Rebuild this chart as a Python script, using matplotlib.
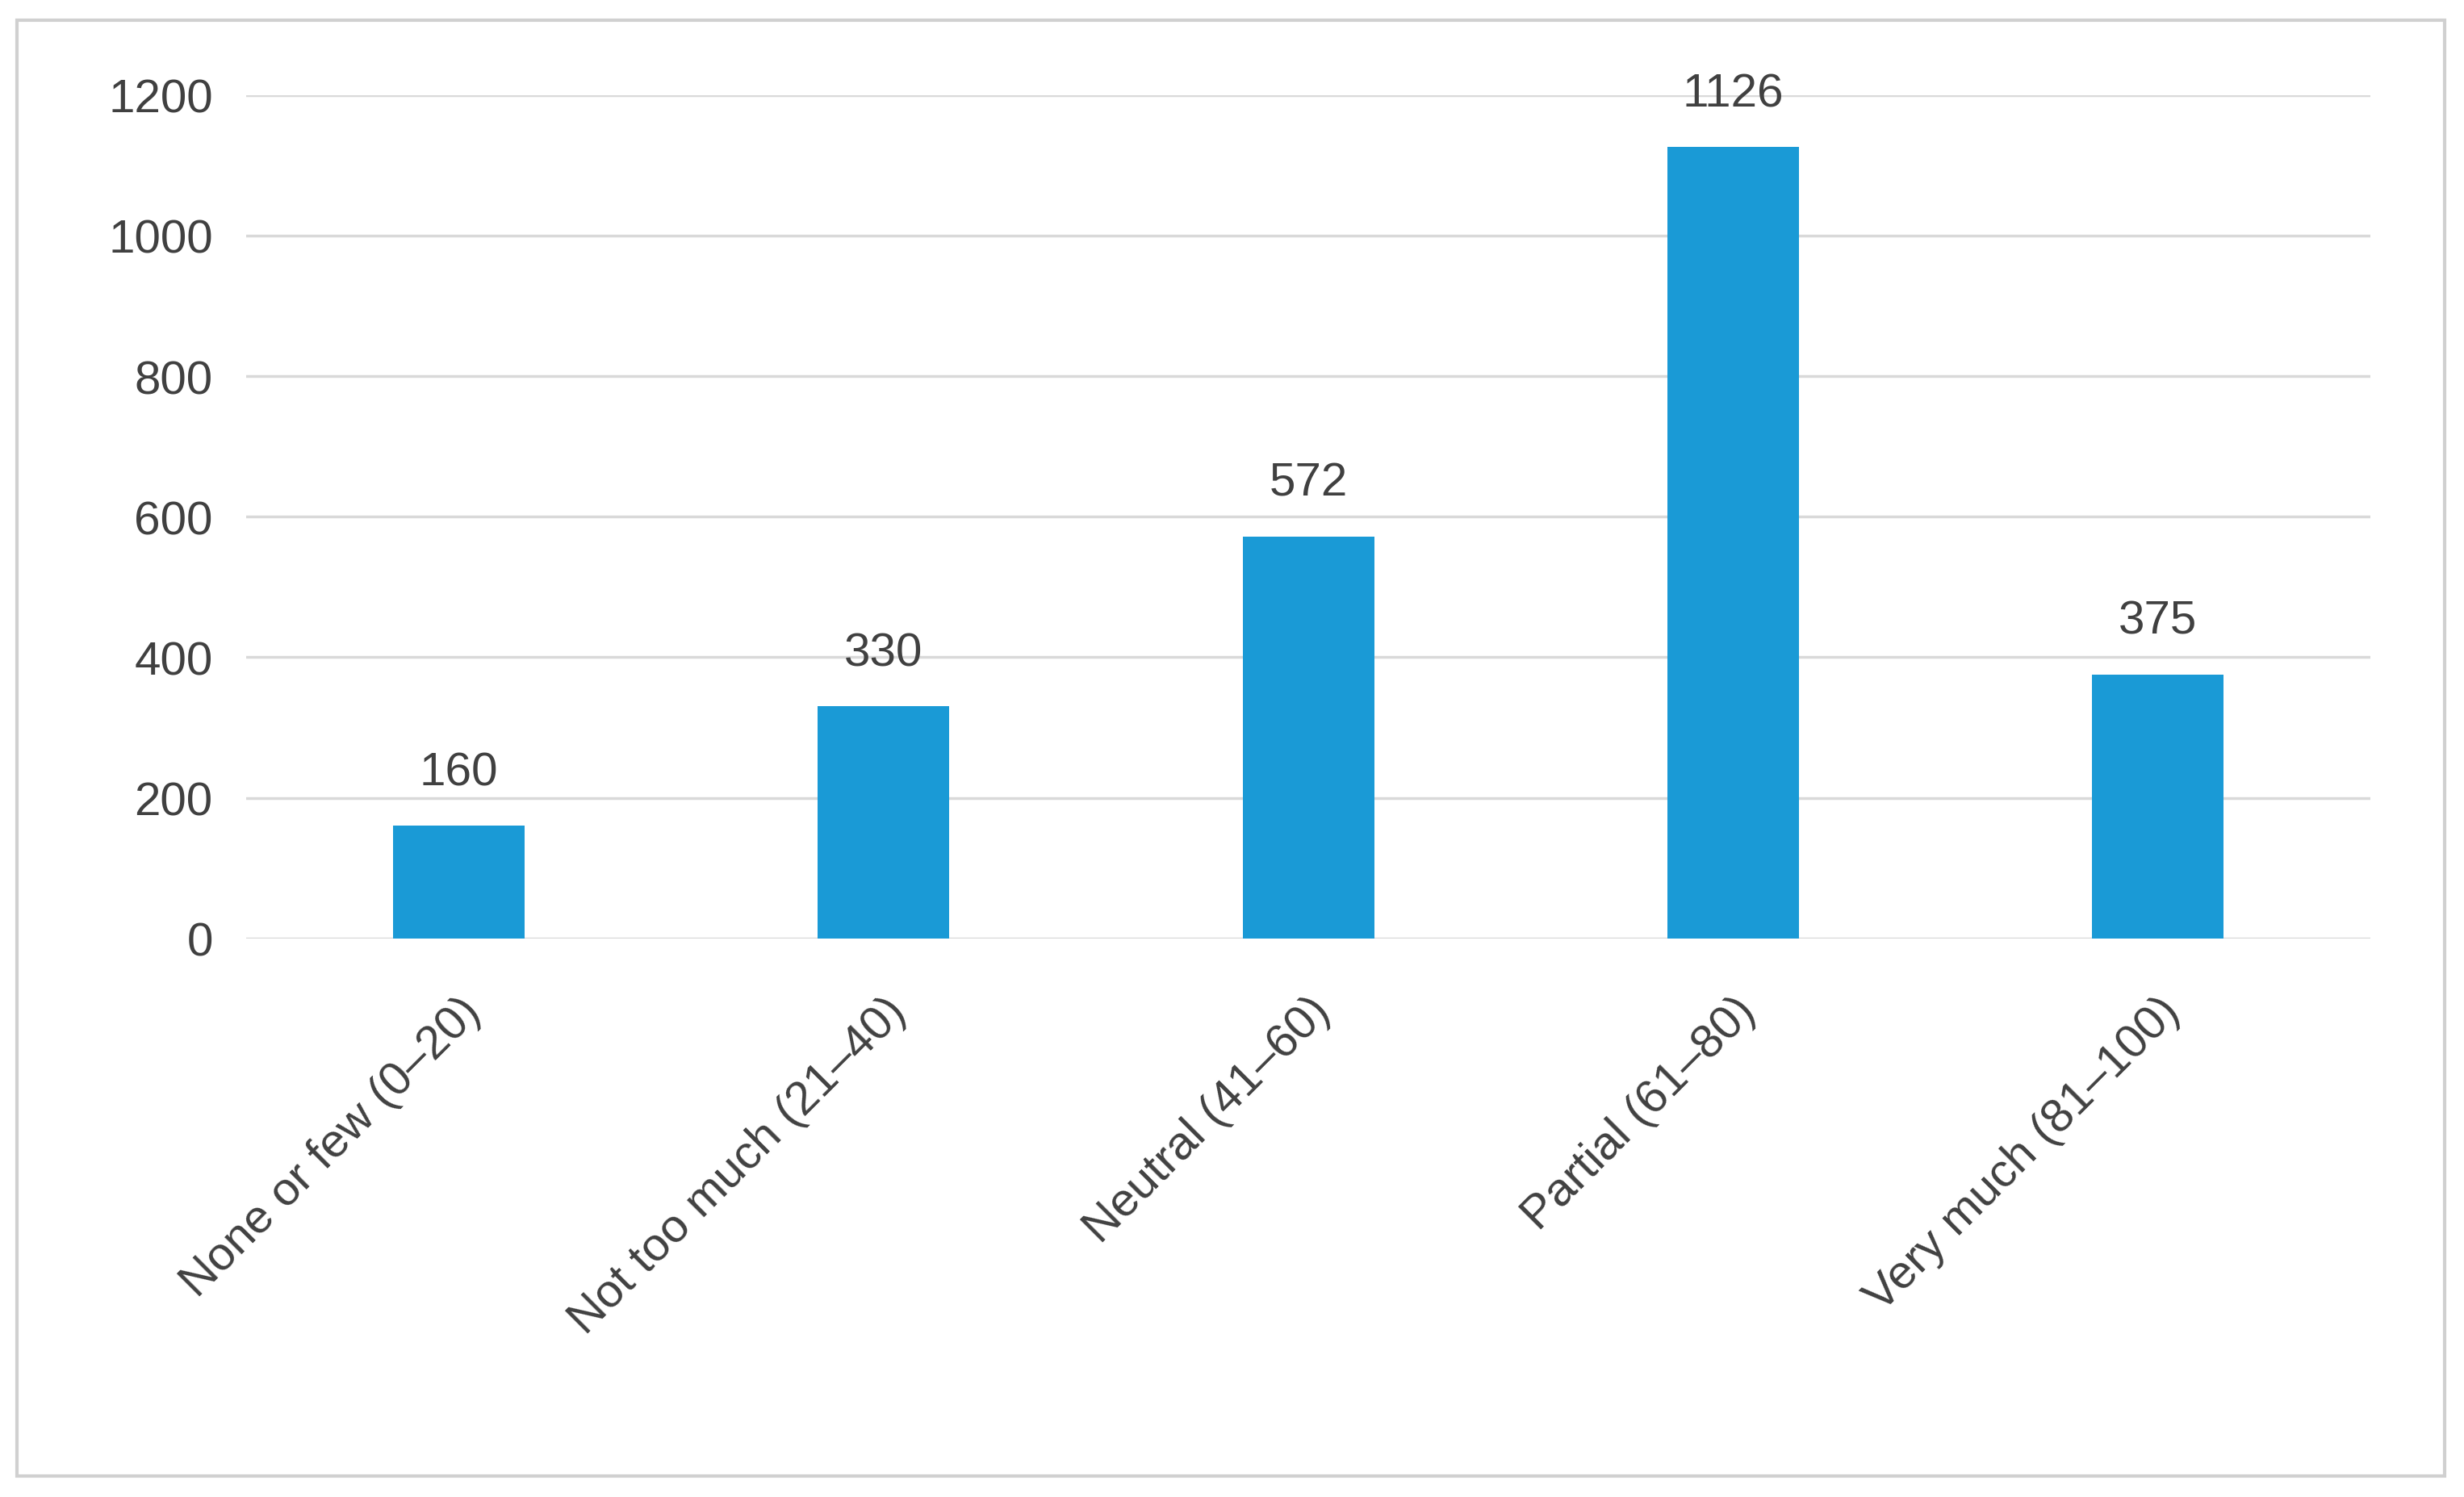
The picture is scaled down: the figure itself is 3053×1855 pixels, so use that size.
import matplotlib
matplotlib.use('Agg')
import matplotlib.pyplot as plt
from matplotlib.patches import Rectangle

# --- data ---
categories = ['None or few (0–20)', 'Not too much (21–40)', 'Neutral (41–60)',
              'Partial (61–80)', 'Very much (81–100)']
counts = [160, 330, 572, 1126, 375]
yticks = [0, 200, 400, 600, 800, 1000, 1200]

BAR_COLOR = '#1a9ad6'
TEXT_COLOR = '#404040'

plt.rcParams['font.family'] = ['Liberation Sans', 'DejaVu Sans']

fig = plt.figure(figsize=(30.53, 18.56), dpi=100)
fig.patches.append(Rectangle((0.007, 0.014), 0.985, 0.972, transform=fig.transFigure,
                             fill=False, edgecolor='#d0d0d0', linewidth=3))
ax = fig.add_axes([0.100, 0.373, 0.862, 0.563])

x = range(len(categories))
ax.bar(x, counts, width=0.31, color=BAR_COLOR, zorder=3)
for xi, v in zip(x, counts):
    ax.text(xi, v + 45, str(v), ha='center', va='bottom', fontsize=42, color=TEXT_COLOR)

ax.set_ylim(0, 1200)
ax.set_xlim(-0.5, len(categories) - 0.5)
ax.set_yticks(yticks)
ax.grid(axis='y', color='#d9d9d9', linewidth=2.5, zorder=0)
for s in ax.spines.values():
    s.set_visible(False)
ax.tick_params(axis='both', length=0, labelsize=42, colors=TEXT_COLOR, pad=30)
ax.set_xticks(list(x))
ax.set_xticklabels(categories, rotation=45, ha='right', va='top', rotation_mode='anchor')
ax.tick_params(axis='x', pad=45)

fig.savefig('out.png', dpi=100)
